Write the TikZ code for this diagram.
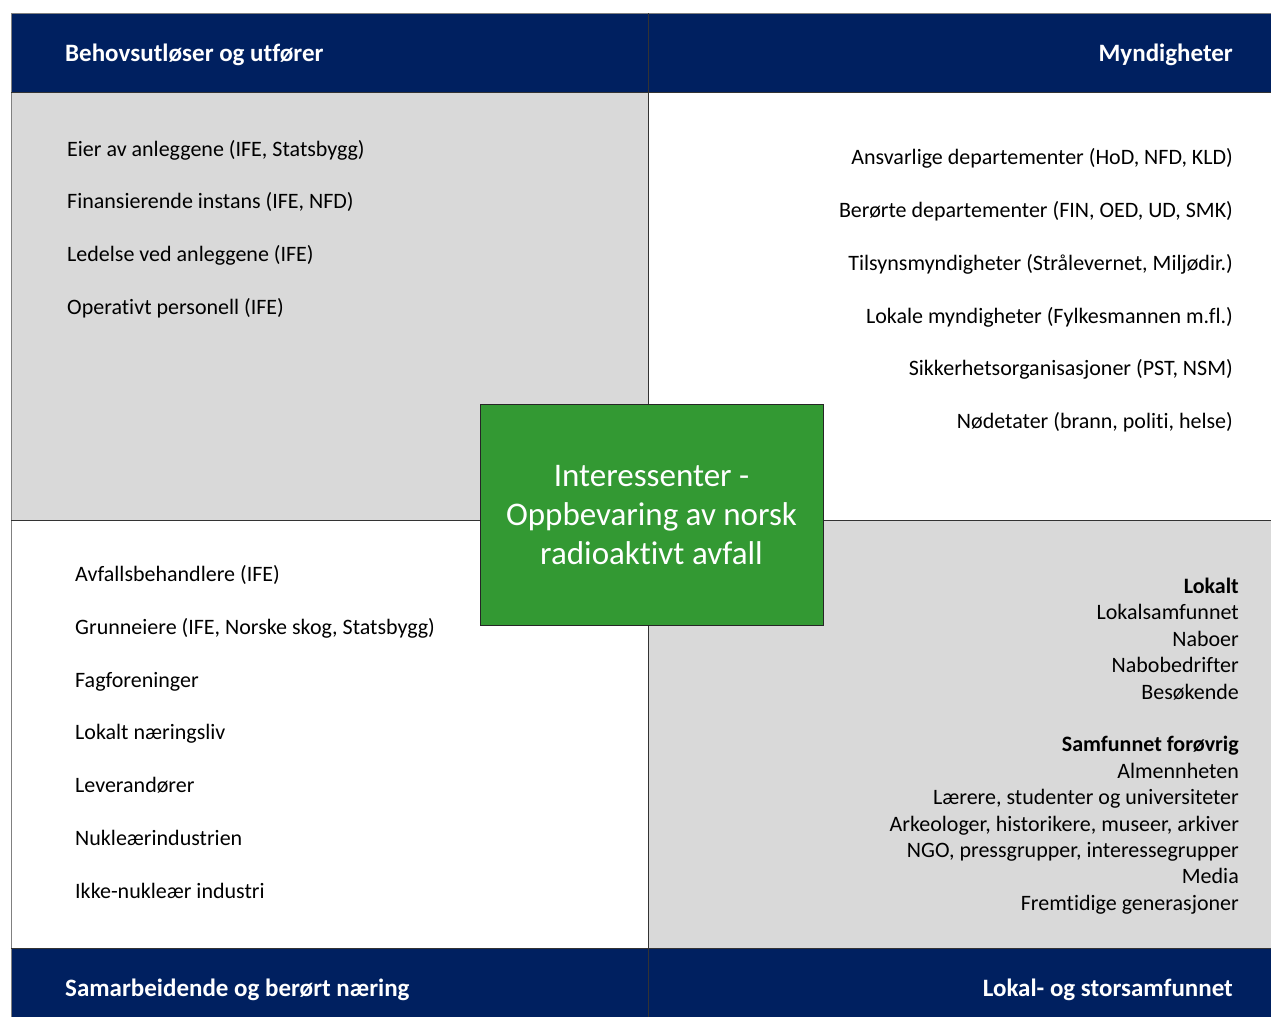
\documentclass[tikz,border=0pt]{standalone}
\usepackage{fontspec}
\setmainfont[Ligatures=NoCommon]{Carlito}
\definecolor{navy}{RGB}{0,32,96}
\definecolor{panelgray}{RGB}{217,217,217}
\definecolor{boxgreen}{RGB}{51,153,51}
\definecolor{framegray}{RGB}{128,128,128}
\begin{document}
\begin{tikzpicture}[x=1pt,y=-1pt,
  hdr/.style={font=\fontsize{25}{30}\selectfont\bfseries,text=white,inner sep=0pt},
  itemL/.style={font=\fontsize{22}{26}\selectfont,anchor=base west,inner sep=0pt},
  itemR/.style={font=\fontsize{22}{26}\selectfont,anchor=base east,inner sep=0pt},
  itemRB/.style={font=\fontsize{22}{26}\selectfont\bfseries,anchor=base east,inner sep=0pt},
  ctext/.style={text=white,font=\fontsize{33}{39}\selectfont,anchor=base,inner sep=0pt},
  divider/.style={draw=black!80,line width=0.8pt}]
\useasboundingbox (0,0) rectangle (1271,1017);
% panels
\fill[panelgray] (11,92) rectangle (648,520);
\fill[white] (648,92) rectangle (1271,520);
\fill[white] (11,520) rectangle (648,948);
\fill[panelgray] (648,520) rectangle (1271,948);
\fill[navy] (11,13) rectangle (1271,92);
\fill[navy] (11,948) rectangle (1271,1017);
% frame and dividers
\draw[framegray,line width=0.8pt] (1271,13) -- (11,13) -- (11,1017);
\draw[divider] (11,92) -- (1271,92);
\draw[divider] (11,948) -- (1271,948);
\draw[divider] (11,520) -- (1271,520);
\draw[divider] (648,13) -- (648,1017);
% headers
\node[hdr,anchor=base west] (h1) at (65,61) {Behovsutløser og utfører};
\node[hdr,anchor=base east] (h2) at (1233,61) {Myndigheter};
\node[hdr,anchor=base west] (h3) at (65,996) {Samarbeidende og berørt næring};
\node[hdr,anchor=base east] (h4) at (1233,996) {Lokal- og storsamfunnet};
% top left
\node[itemL] (a1) at (67,156) {Eier av anleggene (IFE, Statsbygg)};
\node[itemL] (a2) at (67,208) {Finansierende instans (IFE, NFD)};
\node[itemL] (a3) at (67,261) {Ledelse ved anleggene (IFE)};
\node[itemL] (a4) at (67,314) {Operativt personell (IFE)};
% top right
\node[itemR] (b1) at (1233,164) {Ansvarlige departementer (HoD, NFD, KLD)};
\node[itemR] (b2) at (1233,217) {Berørte departementer (FIN, OED, UD, SMK)};
\node[itemR] (b3) at (1233,270) {Tilsynsmyndigheter (Strålevernet, Miljødir.)};
\node[itemR] (b4) at (1233,323) {Lokale myndigheter (Fylkesmannen m.fl.)};
\node[itemR] (b5) at (1233,375) {Sikkerhetsorganisasjoner (PST, NSM)};
\node[itemR] (b6) at (1233,428) {Nødetater (brann, politi, helse)};
% bottom left
\node[itemL] (c1) at (75,581) {Avfallsbehandlere (IFE)};
\node[itemL] (c2) at (75,634) {Grunneiere (IFE, Norske skog, Statsbygg)};
\node[itemL] (c3) at (75,687) {Fagforeninger};
\node[itemL] (c4) at (75,739) {Lokalt næringsliv};
\node[itemL] (c5) at (75,792) {Leverandører};
\node[itemL] (c6) at (75,845) {Nukleærindustrien};
\node[itemL] (c7) at (75,898) {Ikke-nukleær industri};
% bottom right
\node[itemRB] (d0) at (1239,593) {Lokalt};
\node[itemR] (d1) at (1239,619) {Lokalsamfunnet};
\node[itemR] (d2) at (1239,646) {Naboer};
\node[itemR] (d3) at (1239,672) {Nabobedrifter};
\node[itemR] (d4) at (1239,699) {Besøkende};
\node[itemRB] (e0) at (1239,751) {Samfunnet forøvrig};
\node[itemR] (e1) at (1239,778) {Almennheten};
\node[itemR] (e2) at (1239,804) {Lærere, studenter og universiteter};
\node[itemR] (e3) at (1239,831) {Arkeologer, historikere, museer, arkiver};
\node[itemR] (e4) at (1239,857) {NGO, pressgrupper, interessegrupper};
\node[itemR] (e5) at (1239,883) {Media};
\node[itemR] (e6) at (1239,910) {Fremtidige generasjoner};
% center box
\node[draw=black!85,fill=boxgreen,line width=0.8pt,minimum width=343pt,minimum height=221pt,inner sep=0pt] (ctr) at (651.5,514.5) {};
\node[ctext] (ct1) at (651.5,486) {Interessenter -};
\node[ctext] (ct2) at (651.5,525) {Oppbevaring av norsk};
\node[ctext] (ct3) at (651.5,564) {radioaktivt avfall};
\end{tikzpicture}
\end{document}
